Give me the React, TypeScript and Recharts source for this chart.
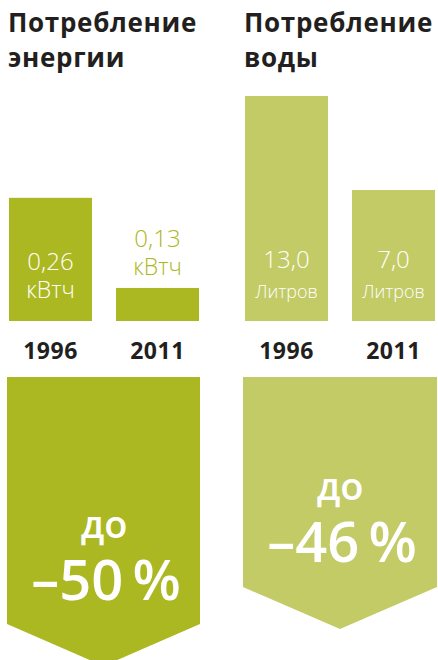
import React from 'react';
import { BarChart, Bar, XAxis, YAxis, LabelList } from 'recharts';

// ---------- data ----------
const years = ['1996', '2011'];
const energyValues = [0.26, 0.13];
const energyLabels = ['0,26', '0,13'];
const energyUnit = 'кВтч';
const waterValues = [13.0, 7.0];
const waterLabels = ['13,0', '7,0'];
const waterUnit = 'Литров';
const energyTitle = ['Потребление', 'энергии'];
const waterTitle = ['Потребление', 'воды'];
const reductionPrefix = 'до';
const reductions = ['–50\u2009%', '–46\u2009%'];

// ---------- style ----------
const DARK = '#acb821';
const LIGHT = '#c3cb66';
const TEXT = '#231f20';
const FONT = '"Open Sans", "DejaVu Sans", sans-serif';

const CH_W = 214;
const CH_H = 380;
const MARGIN_TOP = 80;
const AXIS_H = 59;
const PLOT_BOTTOM = CH_H - AXIS_H; // 321

const energyData = years.map((y, i) => ({ year: y, value: energyValues[i], label: energyLabels[i] }));
const waterData = years.map((y, i) => ({ year: y, value: waterValues[i], label: waterLabels[i] }));

const makeShape = (fill: string) => (props: any) => {
  const x = Number(props.x);
  const y = Number(props.y);
  const w = Number(props.width);
  return <rect x={x} y={y} width={w} height={Math.max(0, PLOT_BOTTOM - y)} fill={fill} />;
};

const YearTick = (props: any) => {
  const { x, payload } = props;
  return (
    <text x={x} y={PLOT_BOTTOM + 38} textAnchor="middle" fill={TEXT} fontFamily={FONT}
      fontWeight={700} fontSize={23} letterSpacing={0.5}>
      {payload.value}
    </text>
  );
};

const EnergyLabel = (props: any) => {
  const x = Number(props.x);
  const y = Number(props.y);
  const w = Number(props.width);
  const h = PLOT_BOTTOM - y;
  const cx = x + w / 2;
  const inside = h > 80;
  const fill = inside ? '#ffffff' : DARK;
  const y1 = inside ? PLOT_BOTTOM - 51 : y - 41;
  const y2 = inside ? PLOT_BOTTOM - 23 : y - 13;
  return (
    <g fontFamily={FONT} fontWeight={300} fill={fill} textAnchor="middle">
      <text x={cx} y={y1} fontSize={24} fill={fill} textAnchor="middle">{props.value}</text>
      <text x={cx} y={y2} fontSize={23} fill={fill} textAnchor="middle">{energyUnit}</text>
    </g>
  );
};

const WaterLabel = (props: any) => {
  const x = Number(props.x);
  const w = Number(props.width);
  const cx = x + w / 2;
  return (
    <g fontFamily={FONT} fontWeight={300} fill="#ffffff" textAnchor="middle">
      <text x={cx} y={PLOT_BOTTOM - 53} fontSize={24} fill="#ffffff" textAnchor="middle">{props.value}</text>
      <text x={cx} y={PLOT_BOTTOM - 23} fontSize={18} fill="#ffffff" textAnchor="middle">{waterUnit}</text>
    </g>
  );
};

export default function App() {
  return (
    <div style={{ position: 'absolute', left: 0, top: 0, width: 438, height: 660, overflow: 'hidden', background: '#fff', fontFamily: FONT }}>
      <div style={{ position: 'absolute', left: -3, top: 0 }}>
        <BarChart width={CH_W} height={CH_H} data={energyData} margin={{ top: MARGIN_TOP, right: 0, bottom: 0, left: 0 }} barSize={83}>
          <XAxis dataKey="year" axisLine={false} tickLine={false} height={AXIS_H} tick={<YearTick />} interval={0} />
          <YAxis hide domain={[0.0823, 0.43]} allowDataOverflow />
          <Bar dataKey="value" fill={DARK} isAnimationActive={false} shape={makeShape(DARK)}>
            <LabelList dataKey="label" content={<EnergyLabel />} />
          </Bar>
        </BarChart>
      </div>
      <div style={{ position: 'absolute', left: 233, top: 0 }}>
        <BarChart width={CH_W} height={CH_H} data={waterData} margin={{ top: MARGIN_TOP, right: 0, bottom: 0, left: 0 }} barSize={83}>
          <XAxis dataKey="year" axisLine={false} tickLine={false} height={AXIS_H} tick={<YearTick />} interval={0} />
          <YAxis hide domain={[-1.36, 14.02]} allowDataOverflow />
          <Bar dataKey="value" fill={LIGHT} isAnimationActive={false} shape={makeShape(LIGHT)}>
            <LabelList dataKey="label" content={<WaterLabel />} />
          </Bar>
        </BarChart>
      </div>
      <svg width={438} height={660} style={{ position: 'absolute', left: 0, top: 0, pointerEvents: 'none' }}>
        <g fontFamily={FONT} fontWeight={700} fontSize={26} fill={TEXT} letterSpacing={0.7}>
          <text x={8} y={32}>{energyTitle[0]}</text>
          <text x={8} y={67}>{energyTitle[1]}</text>
          <text x={244} y={32}>{waterTitle[0]}</text>
          <text x={244} y={67}>{waterTitle[1]}</text>
        </g>
        <polygon points="7,377 200,377 200,624 103.5,666 7,624" fill={DARK} />
        <polygon points="243,377 437,377 437,587 340,629 243,587" fill={LIGHT} />
        <g fontFamily={FONT} fontWeight={600} fill="#ffffff" textAnchor="middle">
          <text x={104} y={538} fontSize={38}>{reductionPrefix}</text>
          <text x={106} y={600} fontSize={56}>{reductions[0]}</text>
          <text x={340} y={500} fontSize={38}>{reductionPrefix}</text>
          <text x={342} y={562} fontSize={56}>{reductions[1]}</text>
        </g>
      </svg>
    </div>
  );
}
